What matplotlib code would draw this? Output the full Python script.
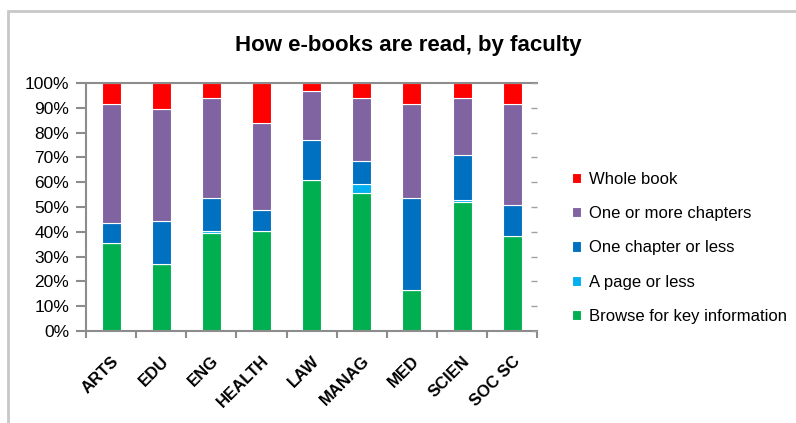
import matplotlib
matplotlib.use("Agg")
import matplotlib.pyplot as plt
import numpy as np
from matplotlib.patches import Rectangle

# faculties and share of readers (%) for each reading style
faculties = ["ARTS", "EDU", "ENG", "HEALTH", "LAW", "MANAG", "MED", "SCIEN", "SOC SC"]
browse = [35.5, 27.0, 39.5, 40.5, 61.0, 55.5, 16.5, 52.0, 38.5]
page_or_less = [0.0, 0.0, 1.0, 0.0, 0.0, 4.0, 0.0, 1.0, 0.0]
chapter_or_less = [8.0, 17.5, 13.0, 8.5, 16.0, 9.0, 37.0, 18.0, 12.5]
more_chapters = [48.0, 45.0, 40.5, 35.0, 20.0, 25.5, 38.0, 23.0, 40.5]
whole_book = [8.5, 10.5, 6.0, 16.0, 3.0, 6.0, 8.5, 6.0, 8.5]

series = [
    ("Browse for key information", browse, "#00B050"),
    ("A page or less", page_or_less, "#00B0F0"),
    ("One chapter or less", chapter_or_less, "#0070C0"),
    ("One or more chapters", more_chapters, "#8064A2"),
    ("Whole book", whole_book, "#FF0000"),
]

plt.rcParams["font.family"] = ["Liberation Sans", "DejaVu Sans"]

fig = plt.figure(figsize=(7.96, 4.23), dpi=100)
ax = fig.add_axes([0.108, 0.2175, 0.567, 0.586])

# grey frame around the chart (only top and left edges show)
fig.patches.append(Rectangle((8 / 796, -0.1), 1.2, (423 - 11) / 423 + 0.1,
                             transform=fig.transFigure, fill=False,
                             edgecolor="#C8C8C8", linewidth=2))

x = np.arange(len(faculties))
bottom = np.zeros(len(faculties))
handles = []
for name, vals, col in series:
    b = ax.bar(x, vals, width=0.38, bottom=bottom, color=col,
               edgecolor="white", linewidth=0.8, label=name)
    bottom += np.array(vals)
    handles.append(b)

ax.set_xlim(-0.5, len(faculties) - 0.5)
ax.set_ylim(0, 100)
ax.set_yticks(range(0, 101, 10))
ax.set_yticklabels([f"{v}%" for v in range(0, 101, 10)], fontsize=12.5)

ax.set_xticks(x)
ax.set_xticklabels(faculties, rotation=45, ha="right", rotation_mode="anchor",
                   fontweight="bold", fontsize=12)
ax.set_xticks(np.arange(-0.5, len(faculties)), minor=True)
ax.tick_params(axis="x", which="major", length=0, pad=16)
ax.tick_params(axis="x", which="minor", length=5, color="#8C8C8C", width=1.5)
ax.tick_params(axis="y", length=7, color="#8C8C8C", width=1.5, pad=5)

for side in ["left", "bottom", "top"]:
    ax.spines[side].set_color("#8C8C8C")
    ax.spines[side].set_linewidth(1.5)
ax.spines["right"].set_visible(False)

# faint secondary axis ticks on the right
ax2 = ax.twinx()
ax2.set_ylim(0, 100)
ax2.set_yticks(range(0, 101, 10))
ax2.set_yticklabels([])
ax2.tick_params(axis="y", direction="in", length=4, color="#A0A0A0", width=1)
for side in ax2.spines:
    ax2.spines[side].set_visible(False)

fig.text(408 / 796, 1 - 45 / 423, "How e-books are read, by faculty",
         fontweight="bold", fontsize=16, ha="center", va="center")

leg = fig.legend(handles[::-1], [s[0] for s in series][::-1], loc="center left",
                 bbox_to_anchor=(0.700, 0.414), frameon=False, fontsize=12,
                 handlelength=0.55, handleheight=0.55, handletextpad=0.45,
                 labelspacing=1.15)

fig.savefig("out.png", dpi=100)
